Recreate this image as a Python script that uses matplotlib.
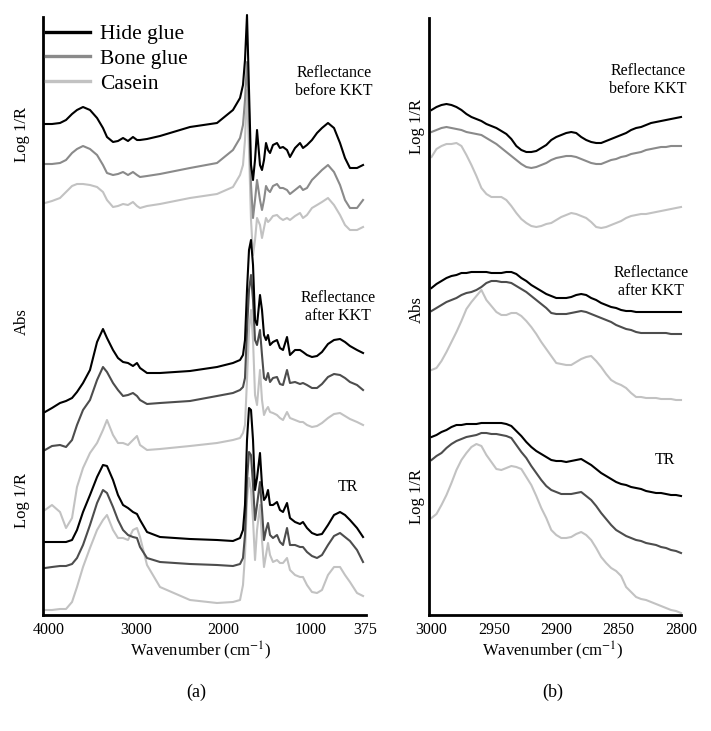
import matplotlib
matplotlib.use("Agg")
import matplotlib.pyplot as plt
from matplotlib.lines import Line2D

plt.rcParams['font.family'] = ['Liberation Serif', 'DejaVu Serif']
plt.rcParams['mathtext.fontset'] = 'stix'

# ---------------- Panel (a): full range ----------------
wn_a = [4046, 3966, 3874, 3805, 3736, 3679, 3610, 3530, 3449, 3381,
        3335, 3266, 3209, 3151, 3094, 3037, 2991, 2956, 2876, 2727,
        2383, 2073, 1890, 1809, 1775, 1752, 1729, 1706, 1683, 1660,
        1637, 1614, 1580, 1557, 1534, 1511, 1488, 1465, 1431, 1385,
        1351, 1316, 1270, 1236, 1178, 1121, 1087, 1041, 984, 926,
        869, 800, 731, 662, 605, 548, 467, 398]

hide_before_a = [491, 491, 492, 495, 501, 505, 508, 505, 497, 487,
                 478, 473, 474, 477, 474, 478, 475, 475, 476, 479,
                 488, 492, 505, 517, 530, 555, 600, 525, 450, 435,
                 455, 485, 450, 445, 455, 472, 465, 462, 470, 472,
                 467, 468, 465, 458, 467, 472, 467, 470, 475, 482,
                 487, 492, 487, 472, 457, 447, 447, 450]
bone_before_a = [451, 451, 452, 455, 462, 466, 469, 466, 460, 450,
                 442, 440, 441, 443, 440, 443, 440, 438, 439, 441,
                 447, 452, 465, 477, 490, 515, 553, 505, 430, 397,
                 415, 435, 415, 405, 415, 429, 425, 423, 429, 431,
                 427, 427, 425, 421, 425, 429, 425, 427, 435, 440,
                 445, 450, 443, 430, 415, 407, 407, 415]
casein_before_a = [412, 414, 417, 423, 429, 431, 431, 430, 428, 423,
                   415, 408, 409, 411, 410, 413, 409, 407, 409, 411,
                   417, 421, 428, 440, 450, 475, 525, 465, 395, 360,
                   375, 397, 390, 377, 387, 397, 393, 395, 399, 400,
                   397, 395, 397, 395, 399, 402, 397, 400, 407, 410,
                   413, 417, 410, 400, 390, 385, 385, 388]

hide_after_a = [203, 207, 212, 214, 217, 223, 232, 245, 273, 286,
                277, 265, 257, 253, 252, 249, 252, 247, 242, 242,
                244, 248, 252, 255, 260, 275, 325, 365, 375, 350,
                295, 290, 320, 305, 280, 275, 280, 270, 273, 275,
                267, 265, 278, 260, 265, 265, 263, 260, 258, 259,
                263, 271, 275, 276, 273, 269, 265, 262]
bone_after_a = [165, 169, 170, 168, 175, 190, 205, 215, 235, 248,
                243, 232, 225, 219, 220, 222, 219, 215, 211, 212,
                214, 219, 222, 225, 228, 237, 285, 325, 340, 315,
                275, 270, 285, 260, 237, 235, 242, 233, 237, 238,
                231, 230, 245, 232, 233, 231, 232, 230, 227, 227,
                231, 238, 241, 240, 237, 233, 230, 225]
casein_after_a = [105, 110, 103, 87, 97, 128, 147, 162, 172, 185,
                  195, 180, 172, 172, 170, 175, 179, 170, 165, 166,
                  169, 172, 175, 177, 182, 190, 235, 285, 305, 275,
                  220, 210, 245, 215, 200, 205, 208, 203, 202, 200,
                  197, 195, 203, 197, 195, 193, 193, 190, 188, 189,
                  192, 197, 201, 202, 199, 196, 193, 190]

hide_tr_a = [73, 73, 73, 73, 75, 85, 103, 120, 138, 150,
             149, 135, 120, 110, 107, 103, 101, 95, 83, 78,
             76, 75, 74, 77, 85, 110, 175, 207, 205, 175,
             125, 137, 162, 130, 115, 118, 125, 110, 110, 113,
             105, 103, 112, 97, 93, 91, 93, 87, 82, 80,
             81, 90, 100, 103, 100, 95, 87, 78]
bone_tr_a = [47, 48, 49, 49, 51, 57, 70, 90, 112, 125,
             122, 108, 95, 85, 80, 78, 77, 68, 57, 53,
             51, 50, 49, 51, 57, 80, 135, 163, 160, 130,
             95, 110, 133, 105, 75, 85, 92, 80, 77, 80,
             73, 70, 87, 70, 70, 68, 68, 63, 59, 57,
             60, 70, 79, 82, 78, 74, 65, 53]
casein_tr_a = [5, 5, 6, 6, 13, 28, 48, 67, 85, 95,
               100, 85, 77, 77, 75, 85, 87, 78, 50, 28,
               15, 12, 13, 15, 30, 60, 115, 137, 125, 95,
               55, 85, 110, 75, 48, 60, 72, 60, 53, 55,
               52, 52, 57, 45, 40, 38, 38, 30, 23, 22,
               25, 40, 48, 48, 40, 33, 22, 19]

# ---------------- Panel (b): C-H stretching region ----------------
wn_b = [3000, 2996, 2992, 2988, 2984, 2980, 2976, 2972, 2968, 2964,
        2960, 2956, 2952, 2948, 2944, 2940, 2936, 2932, 2928, 2924,
        2920, 2916, 2912, 2908, 2904, 2900, 2896, 2892, 2888, 2884,
        2880, 2876, 2872, 2868, 2864, 2860, 2856, 2852, 2848, 2844,
        2840, 2836, 2832, 2828, 2824, 2820, 2816, 2812, 2808, 2804,
        2800]

hide_before_b = [505, 508, 510, 511, 510, 508, 505, 501, 498, 496,
                 494, 491, 489, 487, 484, 481, 476, 469, 465, 463,
                 463, 464, 467, 470, 475, 478, 480, 482, 483, 482,
                 478, 475, 473, 472, 472, 474, 476, 478, 480, 482,
                 485, 487, 488, 490, 492, 493, 494, 495, 496, 497, 498]
bone_before_b = [483, 485, 487, 488, 487, 486, 485, 483, 482, 481,
                 480, 477, 474, 471, 467, 463, 459, 455, 451, 448,
                 447, 448, 450, 452, 455, 457, 458, 459, 459, 458,
                 456, 454, 452, 451, 451, 453, 455, 456, 458, 459,
                 461, 462, 463, 465, 466, 467, 468, 468, 469, 469, 469]
casein_before_b = [458, 466, 469, 471, 471, 472, 469, 460, 450, 439,
                   427, 421, 418, 418, 418, 415, 409, 402, 396, 392,
                   389, 388, 389, 391, 392, 395, 398, 400, 402, 401,
                   399, 397, 393, 388, 387, 388, 390, 392, 394, 397,
                   399, 400, 401, 401, 402, 403, 404, 405, 406, 407, 408]

hide_after_b = [327, 331, 334, 337, 339, 340, 342, 342, 343, 343,
                343, 343, 342, 342, 342, 343, 343, 341, 337, 334,
                330, 327, 324, 321, 319, 317, 317, 317, 318, 320,
                321, 320, 317, 315, 312, 310, 308, 307, 305, 304,
                304, 303, 303, 303, 303, 303, 303, 303, 303, 303, 303]
bone_after_b = [304, 307, 310, 313, 315, 317, 320, 322, 323, 325,
                328, 332, 334, 334, 333, 333, 332, 329, 326, 323,
                319, 315, 311, 307, 302, 301, 301, 301, 302, 303,
                304, 303, 301, 299, 297, 295, 293, 290, 288, 286,
                285, 283, 282, 282, 282, 282, 282, 282, 281, 281, 281]
casein_after_b = [245, 247, 254, 263, 273, 283, 294, 306, 313, 319,
                  325, 315, 309, 303, 300, 300, 302, 302, 299, 294,
                  288, 281, 273, 266, 259, 252, 251, 250, 250, 253,
                  256, 258, 259, 254, 248, 241, 235, 232, 230, 227,
                  222, 218, 218, 217, 217, 217, 216, 216, 216, 215, 215]

hide_tr_b = [178, 180, 183, 185, 188, 190, 190, 191, 191, 191,
             192, 192, 192, 192, 192, 191, 189, 184, 179, 173,
             168, 164, 161, 158, 155, 154, 154, 153, 154, 155,
             156, 153, 150, 146, 142, 139, 136, 133, 131, 130,
             128, 127, 126, 124, 123, 122, 122, 121, 120, 120, 119]
bone_tr_b = [155, 159, 162, 167, 171, 174, 176, 178, 179, 180,
             182, 182, 181, 181, 180, 179, 177, 170, 163, 157,
             149, 142, 135, 129, 125, 123, 121, 121, 121, 122,
             123, 119, 115, 109, 102, 96, 90, 85, 82, 79,
             77, 75, 74, 72, 71, 70, 68, 67, 65, 64, 62]
casein_tr_b = [97, 101, 110, 120, 132, 145, 155, 162, 168, 171,
               169, 160, 153, 146, 145, 147, 149, 148, 146, 138,
               130, 119, 107, 97, 85, 80, 77, 77, 78, 81,
               83, 80, 75, 67, 58, 52, 47, 44, 39, 28,
               23, 18, 16, 15, 13, 11, 9, 7, 5, 4, 2]

ticks_a = [4000, 3000, 2000, 1000, 375]
ticks_b = [3000, 2950, 2900, 2850, 2800]
labels = ['Hide glue', 'Bone glue', 'Casein']

C_HIDE = '#000000'
C_BONE_LIGHT = '#8a8a8a'
C_BONE_DARK = '#4d4d4d'
C_CASEIN = '#c2c2c2'
LW = 1.5

W, H = 711, 731
fig = plt.figure(figsize=(W / 100, H / 100), dpi=100)


def px_axes(x0, y0, x1, y1):
    return fig.add_axes([x0 / W, 1 - y1 / H, (x1 - x0) / W, (y1 - y0) / H])


def style(ax):
    for s in ('top', 'right'):
        ax.spines[s].set_visible(False)
    for s in ('left', 'bottom'):
        ax.spines[s].set_linewidth(2.0)
    ax.set_yticks([])
    ax.tick_params(axis='x', length=0, pad=5, labelsize=11.5)


ax_a = px_axes(43, 17, 366, 615)
groups_a = [
    (hide_before_a, bone_before_a, casein_before_a, C_BONE_LIGHT),
    (hide_after_a, bone_after_a, casein_after_a, C_BONE_DARK),
    (hide_tr_a, bone_tr_a, casein_tr_a, C_BONE_DARK),
]
for hide, bone, cas, bc in groups_a:
    ax_a.plot(wn_a, cas, color=C_CASEIN, lw=LW, clip_on=False, solid_joinstyle='round')
    ax_a.plot(wn_a, bone, color=bc, lw=LW, clip_on=False, solid_joinstyle='round')
    ax_a.plot(wn_a, hide, color=C_HIDE, lw=LW, clip_on=False, solid_joinstyle='round')
ax_a.set_xlim(4069, 364)
ax_a.set_ylim(0, 598)
ax_a.set_xticks(ticks_a)
ax_a.set_xticklabels([str(t) for t in ticks_a])
style(ax_a)

ax_b = px_axes(429, 18, 681, 615)
groups_b = [
    (hide_before_b, bone_before_b, casein_before_b, C_BONE_LIGHT),
    (hide_after_b, bone_after_b, casein_after_b, C_BONE_DARK),
    (hide_tr_b, bone_tr_b, casein_tr_b, C_BONE_DARK),
]
for hide, bone, cas, bc in groups_b:
    ax_b.plot(wn_b, cas, color=C_CASEIN, lw=LW, clip_on=False, solid_joinstyle='round')
    ax_b.plot(wn_b, bone, color=bc, lw=LW, clip_on=False, solid_joinstyle='round')
    ax_b.plot(wn_b, hide, color=C_HIDE, lw=LW, clip_on=False, solid_joinstyle='round')
ax_b.set_xlim(3002, 2800)
ax_b.set_ylim(0, 597)
ax_b.set_xticks(ticks_b)
ax_b.set_xticklabels([str(t) for t in ticks_b])
style(ax_b)

# legend
handles = [Line2D([], [], color=C_HIDE, lw=2.4),
           Line2D([], [], color=C_BONE_LIGHT, lw=2.4),
           Line2D([], [], color=C_CASEIN, lw=2.4)]
fig.legend(handles, labels, loc='upper left', bbox_to_anchor=(46 / W, 1 - 24 / H),
           frameon=False, fontsize=15.5, handlelength=2.05, handletextpad=0.45,
           labelspacing=0.22, borderpad=0, borderaxespad=0)


def ftext(x, y, s, **kw):
    fig.text(x / W, 1 - y / H, s, ha='center', va='center', **kw)


ylab_kw = dict(rotation=90, fontsize=12)
ftext(22, 134, 'Log 1/R', **ylab_kw)
ftext(22, 322, 'Abs', **ylab_kw)
ftext(22, 500, 'Log 1/R', **ylab_kw)
ftext(417, 127, 'Log 1/R', **ylab_kw)
ftext(417, 310, 'Abs', **ylab_kw)
ftext(417, 497, 'Log 1/R', **ylab_kw)

ann_kw = dict(fontsize=11.5, linespacing=1.15)
ftext(334, 82, 'Reflectance\nbefore KKT', **ann_kw)
ftext(338, 307, 'Reflectance\nafter KKT', **ann_kw)
ftext(348, 487, 'TR', **ann_kw)
ftext(648, 80, 'Reflectance\nbefore KKT', **ann_kw)
ftext(651, 282, 'Reflectance\nafter KKT', **ann_kw)
ftext(665, 460, 'TR', **ann_kw)

ftext(201, 651, r'Wavenumber (cm$^{-1}$)', fontsize=12)
ftext(553, 651, r'Wavenumber (cm$^{-1}$)', fontsize=12)
ftext(196, 692, '(a)', fontsize=13)
ftext(553, 692, '(b)', fontsize=13)

fig.savefig('out.png', dpi=100)
